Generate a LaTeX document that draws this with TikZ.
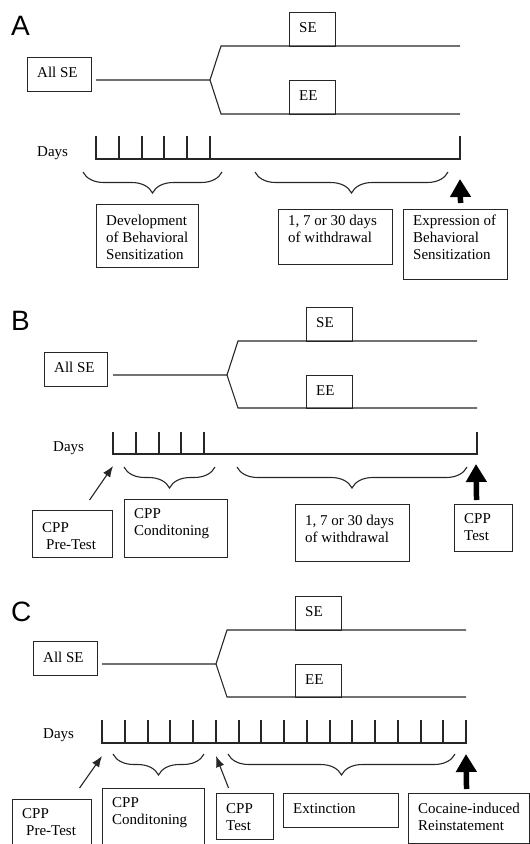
\documentclass[tikz,border=0pt]{standalone}
\usepackage{fontspec}
\setmainfont{Liberation Serif}
\newfontfamily\panelfont{Liberation Sans}
\usetikzlibrary{arrows.meta,decorations.pathreplacing,calc}

\tikzset{
  ln/.style={line width=1.1pt, draw=black!85},
  boxframe/.style={draw=black!85, line width=1.1pt, anchor=north west, inner sep=0pt},
  boxtext/.style={anchor=north west, inner sep=0pt, align=left, font=\fontsize{15pt}{17pt}\selectfont},
  daylbl/.style={anchor=base west, inner sep=0pt, font=\fontsize{15pt}{17pt}\selectfont},
  panel/.style={anchor=base west, inner sep=0pt, font=\panelfont\fontsize{28pt}{30pt}\selectfont},
  curly/.style={ln, decorate, decoration={brace, mirror, amplitude=21pt}},
  thinarrow/.style={ln, -{Latex[length=11pt,width=8.5pt]}},
  bigarrow/.style={draw=black, line width=5.5pt, -{Triangle[length=18pt,width=20pt]}},
}

% name, x, y (top-left, image coords), width, height, first baseline offset, text
\newcommand{\tbox}[7]{%
  \node[boxframe, minimum width=#4pt, minimum height=#5pt] (#1) at (#2,#3) {};
  \node[boxtext] (#1-t) at ([xshift=10pt,yshift={11pt-#6pt}]#1.north west) {\rule{0pt}{11pt}#7};
}

\begin{document}
\begin{tikzpicture}[x=1pt,y=-1pt]
\useasboundingbox (0,0) rectangle (530,844);
\clip (0,0) rectangle (530,844);

% ---------------- Panel A ----------------
\node[panel] (pA) at (11,35) {A};
\tbox{aAll}{27}{57}{64}{34}{20}{All SE}
\tbox{aSE}{289}{12}{46}{34}{20}{SE}
\tbox{aEE}{289}{80}{46}{34}{20}{EE}
\tbox{aDev}{96}{204}{102}{63}{21}{Development\\of Behavioral\\Sensitization}
\tbox{aWd}{278}{209}{114}{55}{16}{1, 7 or 30 days\\of withdrawal}
\tbox{aExp}{403}{209}{104}{70}{16}{Expression of\\Behavioral\\Sensitization}
\node[daylbl] (aDays) at (37,156) {Days};

\coordinate (aStart) at (96,80);
\coordinate (aFork) at (210,80);
\coordinate (aUp) at (221,46);
\coordinate (aDn) at (221,114);
\coordinate (aTopEnd) at (460,46);
\coordinate (aBotEnd) at (460,114);
\draw[ln] (aStart) -- (aFork) -- (aUp) -- (aTopEnd);
\draw[ln] (aFork) -- (aDn) -- (aBotEnd);

\draw[ln] (96,136) -- (96,159) -- (460,159) -- (460,136);
\foreach \i in {1,...,5} \draw[ln] ({round(96+22.8*\i)},136) -- ({round(96+22.8*\i)},159);

\draw[curly] (83,172) -- (222,172);
\draw[curly] (255,172) -- (448,172);

\coordinate (aTip) at (460,179);
\draw[bigarrow] ([xshift=5pt,yshift=6pt]aExp.north) -- (aTip);

% ---------------- Panel B ----------------
\node[panel] (pB) at (11,330) {B};
\tbox{bAll}{44}{352}{63}{34}{20}{All SE}
\tbox{bSE}{306}{307}{46}{34}{20}{SE}
\tbox{bEE}{306}{375}{46}{33}{20}{EE}
\tbox{bPre}{32}{510}{80}{47}{22}{CPP\\\hspace*{4pt}Pre-Test}
\tbox{bCond}{124}{499}{103}{58}{19}{CPP\\Conditoning}
\tbox{bWd}{295}{504}{114}{57}{21}{1, 7 or 30 days\\of withdrawal}
\tbox{bTest}{454}{504}{58}{47}{19}{CPP\\Test}
\node[daylbl] (bDays) at (53,451) {Days};

\coordinate (bStart) at (113,375);
\coordinate (bFork) at (227,375);
\coordinate (bUp) at (238,341);
\coordinate (bDn) at (238,408);
\coordinate (bTopEnd) at (477,341);
\coordinate (bBotEnd) at (477,408);
\draw[ln] (bStart) -- (bFork) -- (bUp) -- (bTopEnd);
\draw[ln] (bFork) -- (bDn) -- (bBotEnd);

\draw[ln] (113,432) -- (113,454) -- (477,454) -- (477,432);
\foreach \i in {1,...,4} \draw[ln] ({round(113+22.75*\i)},432) -- ({round(113+22.75*\i)},454);

\draw[curly] (124,467) -- (215,467);
\draw[curly] (237,467) -- (467,467);

\coordinate (bPreTip) at (113,466);
\draw[thinarrow] ([xshift=17pt,yshift=10pt]bPre.north) -- (bPreTip);
\coordinate (bTip) at (476,464);
\draw[bigarrow] ([xshift=-7pt,yshift=4pt]bTest.north) -- (bTip);

% ---------------- Panel C ----------------
\node[panel] (pC) at (11,621) {C};
\tbox{cAll}{33}{641}{64}{34}{21}{All SE}
\tbox{cSE}{295}{596}{46}{34}{20}{SE}
\tbox{cEE}{295}{664}{46}{33}{20}{EE}
\tbox{cPre}{12}{799}{79}{60}{19}{CPP\\\hspace*{4pt}Pre-Test}
\tbox{cCond}{102}{788}{102}{70}{19}{CPP\\Conditoning}
\tbox{cTest}{216}{793}{57}{46}{20}{CPP\\Test}
\tbox{cExt}{283}{793}{115}{34}{20}{Extinction}
\tbox{cCoc}{408}{793}{121}{50}{20}{Cocaine-induced\\Reinstatement}
\node[daylbl] (cDays) at (43,738) {Days};

\coordinate (cStart) at (102,664);
\coordinate (cFork) at (216,664);
\coordinate (cUp) at (227,630);
\coordinate (cDn) at (227,697);
\coordinate (cTopEnd) at (466,630);
\coordinate (cBotEnd) at (466,697);
\draw[ln] (cStart) -- (cFork) -- (cUp) -- (cTopEnd);
\draw[ln] (cFork) -- (cDn) -- (cBotEnd);

\draw[ln] (102,720) -- (102,743) -- (466,743) -- (466,720);
\foreach \i in {1,...,15} \draw[ln] ({round(102+22.75*\i)},720) -- ({round(102+22.75*\i)},743);

\draw[curly] (113,754) -- (204,754);
\draw[curly] (228,754) -- (455,754);

\coordinate (cPreTip) at (102,756);
\draw[thinarrow] ([xshift=27.5pt,yshift=11pt]cPre.north) -- (cPreTip);
\coordinate (cTestTip) at (216,756);
\draw[thinarrow] ([xshift=-16.5pt,yshift=5pt]cTest.north) -- (cTestTip);
\coordinate (cTip) at (466,754);
\draw[bigarrow] ([xshift=-2.5pt,yshift=4pt]cCoc.north) -- (cTip);
\end{tikzpicture}
\end{document}
